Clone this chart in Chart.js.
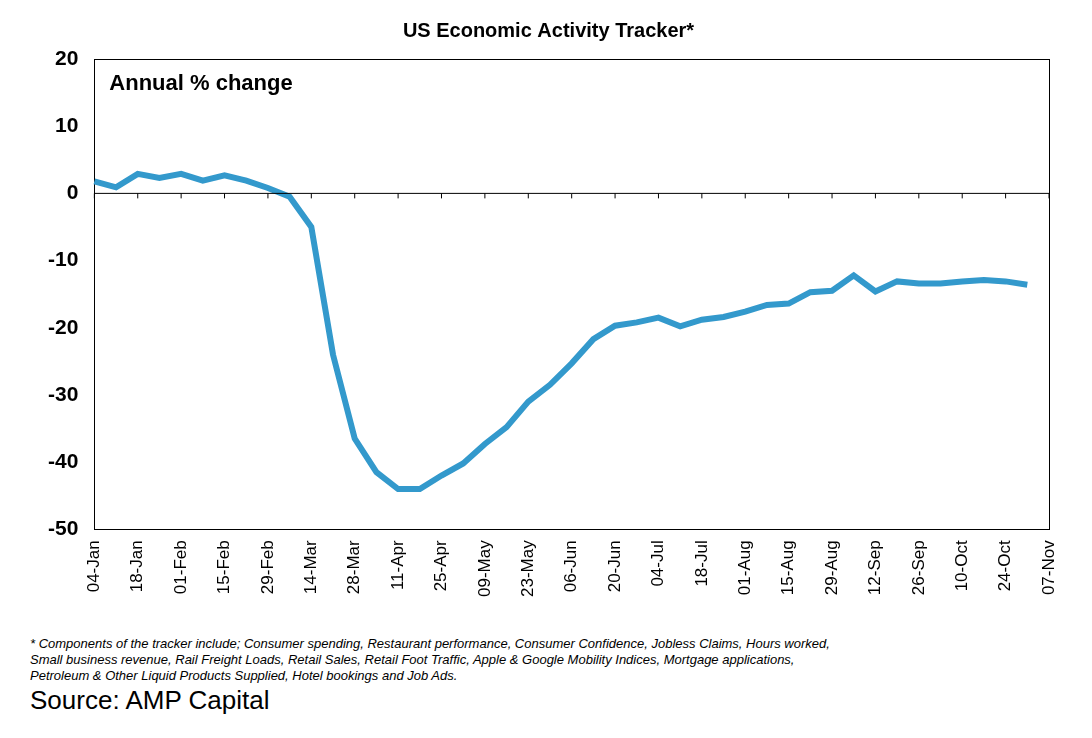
<!DOCTYPE html>
<html>
<head>
<meta charset="UTF-8">
<script src="https://cdn.jsdelivr.net/npm/chart.js"></script>
<style>
  body { margin:0; background:#fff; font-family:"Liberation Sans", Arial, sans-serif; }
  #wrap { position:relative; width:1092px; height:738px; }
  #chartBox { position:absolute; left:0; top:0; width:1092px; height:600px; }
  #note { position:absolute; left:30px; top:636px; width:1050px; font-size:13px; font-style:italic; line-height:16px; }
  #source { position:absolute; left:30px; top:685px; font-size:26px; }
</style>
</head>
<body>
<div id="wrap">
  <div id="chartBox"><canvas id="c"></canvas></div>
  <div id="note">* Components of the tracker include; Consumer spending, Restaurant performance, Consumer Confidence, Jobless Claims, Hours worked,<br>Small business revenue, Rail Freight Loads, Retail Sales, Retail Foot Traffic, Apple &amp; Google Mobility Indices, Mortgage applications,<br>Petroleum &amp; Other Liquid Products Supplied, Hotel bookings and Job Ads.</div>
  <div id="source">Source: AMP Capital</div>
</div>
<script>
const tickLabels = ['04-Jan','18-Jan','01-Feb','15-Feb','29-Feb','14-Mar','28-Mar','11-Apr','25-Apr','09-May','23-May','06-Jun','20-Jun','04-Jul','18-Jul','01-Aug','15-Aug','29-Aug','12-Sep','26-Sep','10-Oct','24-Oct','07-Nov'];
// weekly categories; every second one is labelled
const weeks = [];
tickLabels.forEach((l, i) => { weeks.push(l); if (i < tickLabels.length - 1) weeks.push(''); });
const tracker = [1.8,0.9,2.9,2.3,2.9,1.9,2.7,1.9,0.8,-0.5,-5,-24,-36.5,-41.5,-44,-44,-42,-40.2,-37.3,-34.8,-31,-28.5,-25.3,-21.7,-19.7,-19.2,-18.5,-19.8,-18.8,-18.4,-17.6,-16.6,-16.4,-14.7,-14.5,-12.2,-14.6,-13.1,-13.4,-13.4,-13.1,-12.9,-13.1,-13.6,null];

const zeroAxis = {
  id: 'zeroAxis',
  afterDatasetsDraw(chart) {
    const {ctx, chartArea, scales: {x, y}} = chart;
    const y0 = y.getPixelForValue(0);
    ctx.save();
    ctx.strokeStyle = '#000'; ctx.lineWidth = 1;
    ctx.beginPath();
    ctx.moveTo(chartArea.left, y0); ctx.lineTo(chartArea.right, y0);
    for (let i = 0; i < weeks.length; i += 2) {
      const px = x.getPixelForValue(i);
      ctx.moveTo(px, y0); ctx.lineTo(px, y0 + 5);
    }
    ctx.stroke();
    ctx.fillStyle = '#000';
    ctx.font = 'bold 22px "Liberation Sans", Arial, sans-serif';
    ctx.fillText('Annual % change', chartArea.left + 15, chartArea.top + 31);
    ctx.restore();
  }
};

new Chart(document.getElementById('c'), {
  type: 'line',
  data: { labels: weeks, datasets: [{ data: tracker, borderColor: '#3399cc', borderWidth: 6, pointRadius: 0, tension: 0 }] },
  options: {
    responsive: true, maintainAspectRatio: false, animation: false,
    layout: { padding: { left: 40, right: 35, top: 0, bottom: 0 } },
    plugins: {
      legend: { display: false }, tooltip: { enabled: false },
      title: { display: true, text: 'US Economic Activity Tracker*', color: '#000',
        font: { family: '"Liberation Sans", Arial, sans-serif', size: 20, weight: 'bold' }, padding: { top: 19, bottom: 8 } }
    },
    scales: {
      x: {
        offset: false,
        border: { display: true, color: '#000' },
        grid: { display: false },
        ticks: { autoSkip: false, maxRotation: 90, minRotation: 90, color: '#000',
          font: { family: '"Liberation Sans", Arial, sans-serif', size: 17 },
          callback: (v, i) => weeks[i] }
      },
      x2: { position: 'top', display: true, grid: { display: false }, ticks: { display: false }, border: { color: '#000' } },
      y: {
        min: -50, max: 20,
        border: { color: '#000' },
        grid: { display: false, drawTicks: true },
        ticks: { stepSize: 10, color: '#000', padding: 8,
          font: { family: '"Liberation Sans", Arial, sans-serif', size: 21, weight: 'bold' } }
      },
      y2: { position: 'right', display: true, min: -50, max: 20, grid: { display: false }, ticks: { display: false }, border: { color: '#000' } }
    }
  },
  plugins: [zeroAxis]
});
</script>
</body>
</html>
